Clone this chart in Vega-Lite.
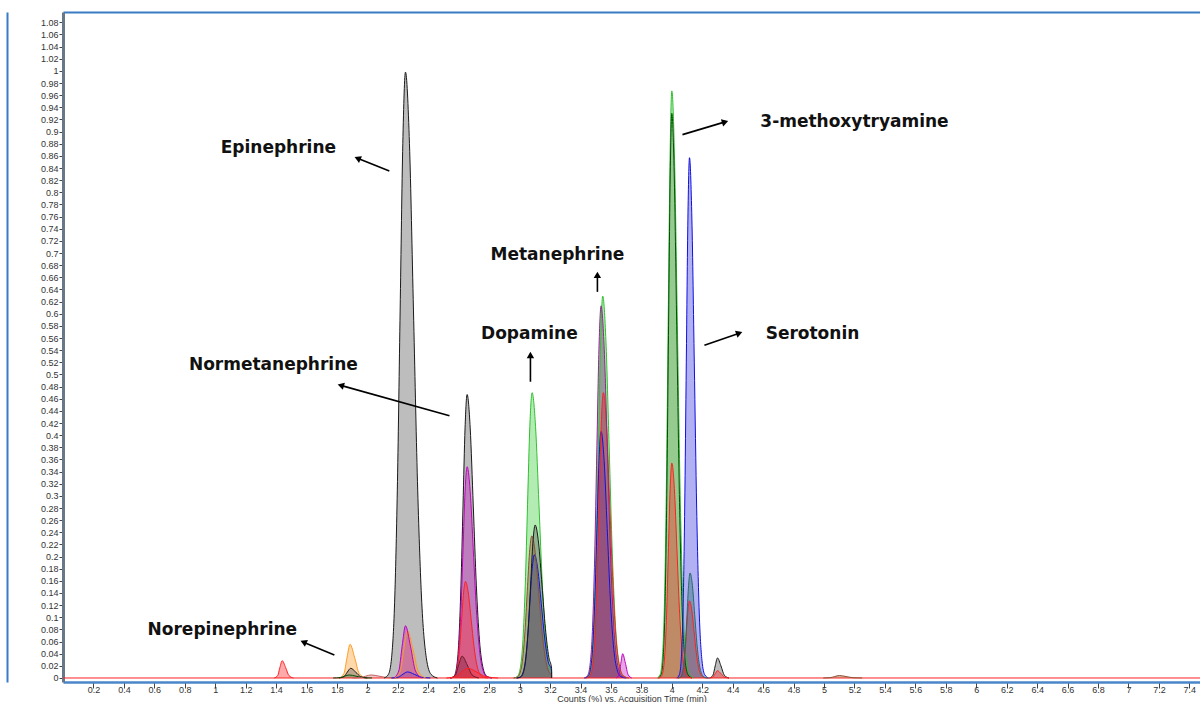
{
"$schema": "https://vega.github.io/schema/vega-lite/v6.json",
"width": 1137, "height": 670,
"autosize": "none",
"padding": {"left": 63, "top": 12, "right": 0, "bottom": 20},
"background": "white",
"datasets": {
"peaks": [
{"p":0,"c":"R","x":0,"y":0},{"p":0,"c":"R","x":7.47,"y":0},
{"p":1,"c":"R","x":1.3875,"y":0},{"p":1,"c":"R","x":1.41,"y":0.0038},{"p":1,"c":"R","x":1.425,"y":0.0173},{"p":1,"c":"R","x":1.44,"y":0.0285},{"p":1,"c":"R","x":1.4625,"y":0.0173},{"p":1,"c":"R","x":1.485,"y":0.0038},{"p":1,"c":"R","x":1.515,"y":0},
{"p":2,"c":"O","x":1.816,"y":0},{"p":2,"c":"O","x":1.846,"y":0.0075},{"p":2,"c":"O","x":1.866,"y":0.0337},{"p":2,"c":"O","x":1.886,"y":0.0555},{"p":2,"c":"O","x":1.916,"y":0.0337},{"p":2,"c":"O","x":1.946,"y":0.0075},{"p":2,"c":"O","x":1.986,"y":0},
{"p":3,"c":"K","x":1.813,"y":0},{"p":3,"c":"K","x":1.846,"y":0.0022},{"p":3,"c":"K","x":1.868,"y":0.0097},{"p":3,"c":"K","x":1.89,"y":0.016},{"p":3,"c":"K","x":1.923,"y":0.0097},{"p":3,"c":"K","x":1.956,"y":0.0022},{"p":3,"c":"K","x":2.0,"y":0},
{"p":4,"c":"DG","x":1.775,"y":0},{"p":4,"c":"DG","x":1.82,"y":0.0007},{"p":4,"c":"DG","x":1.85,"y":0.003},{"p":4,"c":"DG","x":1.88,"y":0.005},{"p":4,"c":"DG","x":1.925,"y":0.003},{"p":4,"c":"DG","x":1.97,"y":0.0007},{"p":4,"c":"DG","x":2.03,"y":0},
{"p":5,"c":"RS","x":1.9015,"y":0},{"p":5,"c":"RS","x":1.954,"y":0.0007},{"p":5,"c":"RS","x":1.989,"y":0.003},{"p":5,"c":"RS","x":2.024,"y":0.005},{"p":5,"c":"RS","x":2.0765,"y":0.003},{"p":5,"c":"RS","x":2.129,"y":0.0007},{"p":5,"c":"RS","x":2.199,"y":0},
{"p":6,"c":"K","x":2.11,"y":0},{"p":6,"c":"K","x":2.138,"y":0.006},{"p":6,"c":"K","x":2.159,"y":0.034},{"p":6,"c":"K","x":2.18,"y":0.135},{"p":6,"c":"K","x":2.1975,"y":0.324},{"p":6,"c":"K","x":2.215,"y":0.606},{"p":6,"c":"K","x":2.2325,"y":0.88},{"p":6,"c":"K","x":2.25,"y":0.998},{"p":6,"c":"K","x":2.27625,"y":0.88},{"p":6,"c":"K","x":2.3025,"y":0.606},{"p":6,"c":"K","x":2.32875,"y":0.324},{"p":6,"c":"K","x":2.355,"y":0.135},{"p":6,"c":"K","x":2.3865,"y":0.034},{"p":6,"c":"K","x":2.418,"y":0.006},{"p":6,"c":"K","x":2.46,"y":0},
{"p":9,"c":"B","x":2.158,"y":0},{"p":9,"c":"B","x":2.203,"y":0.0014},{"p":9,"c":"B","x":2.233,"y":0.0061},{"p":9,"c":"B","x":2.263,"y":0.01},{"p":9,"c":"B","x":2.308,"y":0.0061},{"p":9,"c":"B","x":2.353,"y":0.0014},{"p":9,"c":"B","x":2.413,"y":0},
{"p":8,"c":"O","x":2.179,"y":0},{"p":8,"c":"O","x":2.215,"y":0.0105},{"p":8,"c":"O","x":2.239,"y":0.0473},{"p":8,"c":"O","x":2.263,"y":0.078},{"p":8,"c":"O","x":2.299,"y":0.0473},{"p":8,"c":"O","x":2.335,"y":0.0105},{"p":8,"c":"O","x":2.383,"y":0},
{"p":7,"c":"M","x":2.173,"y":0},{"p":7,"c":"M","x":2.206,"y":0.0116},{"p":7,"c":"M","x":2.228,"y":0.0522},{"p":7,"c":"M","x":2.25,"y":0.086},{"p":7,"c":"M","x":2.283,"y":0.0522},{"p":7,"c":"M","x":2.316,"y":0.0116},{"p":7,"c":"M","x":2.36,"y":0},
{"p":10,"c":"K","x":2.547,"y":0},{"p":10,"c":"K","x":2.5686,"y":0.0028},{"p":10,"c":"K","x":2.5848,"y":0.0159},{"p":10,"c":"K","x":2.601,"y":0.063},{"p":10,"c":"K","x":2.6145,"y":0.1518},{"p":10,"c":"K","x":2.628,"y":0.2835},{"p":10,"c":"K","x":2.6415,"y":0.4119},{"p":10,"c":"K","x":2.655,"y":0.467},{"p":10,"c":"K","x":2.67525,"y":0.4119},{"p":10,"c":"K","x":2.6955,"y":0.2835},{"p":10,"c":"K","x":2.71575,"y":0.1518},{"p":10,"c":"K","x":2.736,"y":0.063},{"p":10,"c":"K","x":2.7603,"y":0.0159},{"p":10,"c":"K","x":2.7846,"y":0.0028},{"p":10,"c":"K","x":2.817,"y":0},
{"p":11,"c":"M","x":2.547,"y":0},{"p":11,"c":"M","x":2.5686,"y":0.0021},{"p":11,"c":"M","x":2.5848,"y":0.0118},{"p":11,"c":"M","x":2.601,"y":0.047},{"p":11,"c":"M","x":2.6145,"y":0.1131},{"p":11,"c":"M","x":2.628,"y":0.2112},{"p":11,"c":"M","x":2.6415,"y":0.3069},{"p":11,"c":"M","x":2.655,"y":0.348},{"p":11,"c":"M","x":2.67525,"y":0.3069},{"p":11,"c":"M","x":2.6955,"y":0.2112},{"p":11,"c":"M","x":2.71575,"y":0.1131},{"p":11,"c":"M","x":2.736,"y":0.047},{"p":11,"c":"M","x":2.7603,"y":0.0118},{"p":11,"c":"M","x":2.7846,"y":0.0021},{"p":11,"c":"M","x":2.817,"y":0},
{"p":12,"c":"R","x":2.544,"y":0},{"p":12,"c":"R","x":2.564,"y":0.001},{"p":12,"c":"R","x":2.579,"y":0.0054},{"p":12,"c":"R","x":2.594,"y":0.0215},{"p":12,"c":"R","x":2.6065,"y":0.0517},{"p":12,"c":"R","x":2.619,"y":0.0965},{"p":12,"c":"R","x":2.6315,"y":0.1402},{"p":12,"c":"R","x":2.644,"y":0.159},{"p":12,"c":"R","x":2.66275,"y":0.1402},{"p":12,"c":"R","x":2.6815,"y":0.0965},{"p":12,"c":"R","x":2.70025,"y":0.0517},{"p":12,"c":"R","x":2.719,"y":0.0215},{"p":12,"c":"R","x":2.7415,"y":0.0054},{"p":12,"c":"R","x":2.764,"y":0.001},{"p":12,"c":"R","x":2.794,"y":0},
{"p":13,"c":"MR","x":2.545,"y":0},{"p":13,"c":"MR","x":2.578,"y":0.0049},{"p":13,"c":"MR","x":2.6,"y":0.0219},{"p":13,"c":"MR","x":2.622,"y":0.036},{"p":13,"c":"MR","x":2.655,"y":0.0219},{"p":13,"c":"MR","x":2.688,"y":0.0049},{"p":13,"c":"MR","x":2.732,"y":0},
{"p":14,"c":"R","x":2.519,"y":0},{"p":14,"c":"R","x":2.579,"y":0.0022},{"p":14,"c":"R","x":2.619,"y":0.0097},{"p":14,"c":"R","x":2.659,"y":0.016},{"p":14,"c":"R","x":2.719,"y":0.0097},{"p":14,"c":"R","x":2.779,"y":0.0022},{"p":14,"c":"R","x":2.859,"y":0},
{"p":15,"c":"G","x":2.962,"y":0},{"p":15,"c":"G","x":2.986,"y":0.0028},{"p":15,"c":"G","x":3.004,"y":0.016},{"p":15,"c":"G","x":3.022,"y":0.0635},{"p":15,"c":"G","x":3.037,"y":0.1528},{"p":15,"c":"G","x":3.052,"y":0.2853},{"p":15,"c":"G","x":3.067,"y":0.4145},{"p":15,"c":"G","x":3.082,"y":0.47},{"p":15,"c":"G","x":3.1045,"y":0.4145},{"p":15,"c":"G","x":3.127,"y":0.2853},{"p":15,"c":"G","x":3.1495,"y":0.1528},{"p":15,"c":"G","x":3.172,"y":0.0635},{"p":15,"c":"G","x":3.199,"y":0.016},{"p":15,"c":"G","x":3.21,"y":0.01},{"p":15,"c":"G","x":3.2101,"y":0},
{"p":18,"c":"B","x":2.977,"y":0},{"p":18,"c":"B","x":3.001,"y":0.0012},{"p":18,"c":"B","x":3.019,"y":0.0069},{"p":18,"c":"B","x":3.037,"y":0.0274},{"p":18,"c":"B","x":3.052,"y":0.066},{"p":18,"c":"B","x":3.067,"y":0.1232},{"p":18,"c":"B","x":3.082,"y":0.179},{"p":18,"c":"B","x":3.097,"y":0.203},{"p":18,"c":"B","x":3.1195,"y":0.179},{"p":18,"c":"B","x":3.142,"y":0.1232},{"p":18,"c":"B","x":3.1645,"y":0.066},{"p":18,"c":"B","x":3.187,"y":0.0274},{"p":18,"c":"B","x":3.21,"y":0.012},{"p":18,"c":"B","x":3.2101,"y":0},
{"p":16,"c":"BR","x":2.96,"y":0},{"p":16,"c":"BR","x":2.984,"y":0.0014},{"p":16,"c":"BR","x":3.002,"y":0.008},{"p":16,"c":"BR","x":3.02,"y":0.0316},{"p":16,"c":"BR","x":3.035,"y":0.076},{"p":16,"c":"BR","x":3.05,"y":0.142},{"p":16,"c":"BR","x":3.065,"y":0.2064},{"p":16,"c":"BR","x":3.08,"y":0.234},{"p":16,"c":"BR","x":3.1025,"y":0.2064},{"p":16,"c":"BR","x":3.125,"y":0.142},{"p":16,"c":"BR","x":3.1475,"y":0.076},{"p":16,"c":"BR","x":3.17,"y":0.0316},{"p":16,"c":"BR","x":3.197,"y":0.008},{"p":16,"c":"BR","x":3.21,"y":0.005},{"p":16,"c":"BR","x":3.2101,"y":0},
{"p":17,"c":"K","x":2.982,"y":0},{"p":17,"c":"K","x":3.006,"y":0.0015},{"p":17,"c":"K","x":3.024,"y":0.0086},{"p":17,"c":"K","x":3.042,"y":0.034},{"p":17,"c":"K","x":3.057,"y":0.0819},{"p":17,"c":"K","x":3.072,"y":0.153},{"p":17,"c":"K","x":3.087,"y":0.2223},{"p":17,"c":"K","x":3.102,"y":0.252},{"p":17,"c":"K","x":3.1245,"y":0.2223},{"p":17,"c":"K","x":3.147,"y":0.153},{"p":17,"c":"K","x":3.1695,"y":0.0819},{"p":17,"c":"K","x":3.192,"y":0.034},{"p":17,"c":"K","x":3.21,"y":0.016},{"p":17,"c":"K","x":3.2101,"y":0},
{"p":19,"c":"G","x":3.434,"y":0},{"p":19,"c":"G","x":3.4564,"y":0.0038},{"p":19,"c":"G","x":3.4732,"y":0.0214},{"p":19,"c":"G","x":3.49,"y":0.0849},{"p":19,"c":"G","x":3.504,"y":0.2044},{"p":19,"c":"G","x":3.518,"y":0.3818},{"p":19,"c":"G","x":3.532,"y":0.5548},{"p":19,"c":"G","x":3.546,"y":0.629},{"p":19,"c":"G","x":3.567,"y":0.5548},{"p":19,"c":"G","x":3.588,"y":0.3818},{"p":19,"c":"G","x":3.609,"y":0.2044},{"p":19,"c":"G","x":3.63,"y":0.0849},{"p":19,"c":"G","x":3.6552,"y":0.0214},{"p":19,"c":"G","x":3.6804,"y":0.0038},{"p":19,"c":"G","x":3.714,"y":0},
{"p":22,"c":"B","x":3.427,"y":0},{"p":22,"c":"B","x":3.4486,"y":0.0024},{"p":22,"c":"B","x":3.4648,"y":0.0138},{"p":22,"c":"B","x":3.481,"y":0.0548},{"p":22,"c":"B","x":3.4945,"y":0.132},{"p":22,"c":"B","x":3.508,"y":0.2464},{"p":22,"c":"B","x":3.5215,"y":0.3581},{"p":22,"c":"B","x":3.535,"y":0.406},{"p":22,"c":"B","x":3.55525,"y":0.3581},{"p":22,"c":"B","x":3.5755,"y":0.2464},{"p":22,"c":"B","x":3.59575,"y":0.132},{"p":22,"c":"B","x":3.616,"y":0.0548},{"p":22,"c":"B","x":3.6403,"y":0.0138},{"p":22,"c":"B","x":3.6646,"y":0.0024},{"p":22,"c":"B","x":3.697,"y":0},
{"p":21,"c":"R","x":3.438,"y":0},{"p":21,"c":"R","x":3.4604,"y":0.0028},{"p":21,"c":"R","x":3.4772,"y":0.016},{"p":21,"c":"R","x":3.494,"y":0.0635},{"p":21,"c":"R","x":3.508,"y":0.1528},{"p":21,"c":"R","x":3.522,"y":0.2853},{"p":21,"c":"R","x":3.536,"y":0.4145},{"p":21,"c":"R","x":3.55,"y":0.47},{"p":21,"c":"R","x":3.571,"y":0.4145},{"p":21,"c":"R","x":3.592,"y":0.2853},{"p":21,"c":"R","x":3.613,"y":0.1528},{"p":21,"c":"R","x":3.634,"y":0.0635},{"p":21,"c":"R","x":3.6592,"y":0.016},{"p":21,"c":"R","x":3.6844,"y":0.0028},{"p":21,"c":"R","x":3.718,"y":0},
{"p":20,"c":"P","x":3.423,"y":0},{"p":20,"c":"P","x":3.4454,"y":0.0037},{"p":20,"c":"P","x":3.4622,"y":0.0208},{"p":20,"c":"P","x":3.479,"y":0.0828},{"p":20,"c":"P","x":3.493,"y":0.1992},{"p":20,"c":"P","x":3.507,"y":0.3721},{"p":20,"c":"P","x":3.521,"y":0.5407},{"p":20,"c":"P","x":3.535,"y":0.613},{"p":20,"c":"P","x":3.556,"y":0.5407},{"p":20,"c":"P","x":3.577,"y":0.3721},{"p":20,"c":"P","x":3.598,"y":0.1992},{"p":20,"c":"P","x":3.619,"y":0.0828},{"p":20,"c":"P","x":3.6442,"y":0.0208},{"p":20,"c":"P","x":3.6694,"y":0.0037},{"p":20,"c":"P","x":3.703,"y":0},
{"p":23,"c":"M","x":3.635,"y":0},{"p":23,"c":"M","x":3.653,"y":0.0054},{"p":23,"c":"M","x":3.665,"y":0.0243},{"p":23,"c":"M","x":3.677,"y":0.04},{"p":23,"c":"M","x":3.695,"y":0.0243},{"p":23,"c":"M","x":3.713,"y":0.0054},{"p":23,"c":"M","x":3.737,"y":0},
{"p":24,"c":"G","x":3.904,"y":0},{"p":24,"c":"G","x":3.9232,"y":0.0058},{"p":24,"c":"G","x":3.9376,"y":0.0329},{"p":24,"c":"G","x":3.952,"y":0.1305},{"p":24,"c":"G","x":3.964,"y":0.3143},{"p":24,"c":"G","x":3.976,"y":0.587},{"p":24,"c":"G","x":3.988,"y":0.8529},{"p":24,"c":"G","x":4.0,"y":0.967},{"p":24,"c":"G","x":4.018,"y":0.8529},{"p":24,"c":"G","x":4.036,"y":0.587},{"p":24,"c":"G","x":4.054,"y":0.3143},{"p":24,"c":"G","x":4.072,"y":0.1305},{"p":24,"c":"G","x":4.0936,"y":0.0329},{"p":24,"c":"G","x":4.1152,"y":0.0058},{"p":24,"c":"G","x":4.144,"y":0},
{"p":25,"c":"DG","x":3.912,"y":0},{"p":25,"c":"DG","x":3.9296,"y":0.0056},{"p":25,"c":"DG","x":3.9428,"y":0.0316},{"p":25,"c":"DG","x":3.956,"y":0.1256},{"p":25,"c":"DG","x":3.967,"y":0.3023},{"p":25,"c":"DG","x":3.978,"y":0.5645},{"p":25,"c":"DG","x":3.989,"y":0.8203},{"p":25,"c":"DG","x":4.0,"y":0.93},{"p":25,"c":"DG","x":4.0165,"y":0.8203},{"p":25,"c":"DG","x":4.033,"y":0.5645},{"p":25,"c":"DG","x":4.0495,"y":0.3023},{"p":25,"c":"DG","x":4.066,"y":0.1256},{"p":25,"c":"DG","x":4.0858,"y":0.0316},{"p":25,"c":"DG","x":4.1056,"y":0.0056},{"p":25,"c":"DG","x":4.132,"y":0},
{"p":26,"c":"R","x":3.912,"y":0},{"p":26,"c":"R","x":3.9296,"y":0.0021},{"p":26,"c":"R","x":3.9428,"y":0.012},{"p":26,"c":"R","x":3.956,"y":0.0478},{"p":26,"c":"R","x":3.967,"y":0.1151},{"p":26,"c":"R","x":3.978,"y":0.2149},{"p":26,"c":"R","x":3.989,"y":0.3122},{"p":26,"c":"R","x":4.0,"y":0.354},{"p":26,"c":"R","x":4.0165,"y":0.3122},{"p":26,"c":"R","x":4.033,"y":0.2149},{"p":26,"c":"R","x":4.0495,"y":0.1151},{"p":26,"c":"R","x":4.066,"y":0.0478},{"p":26,"c":"R","x":4.0858,"y":0.012},{"p":26,"c":"R","x":4.1056,"y":0.0021},{"p":26,"c":"R","x":4.132,"y":0},
{"p":27,"c":"B","x":4.032,"y":0},{"p":27,"c":"B","x":4.0488,"y":0.0051},{"p":27,"c":"B","x":4.0614,"y":0.0291},{"p":27,"c":"B","x":4.074,"y":0.1157},{"p":27,"c":"B","x":4.0845,"y":0.2785},{"p":27,"c":"B","x":4.095,"y":0.5202},{"p":27,"c":"B","x":4.1055,"y":0.7559},{"p":27,"c":"B","x":4.116,"y":0.857},{"p":27,"c":"B","x":4.13175,"y":0.7559},{"p":27,"c":"B","x":4.1475,"y":0.5202},{"p":27,"c":"B","x":4.16325,"y":0.2785},{"p":27,"c":"B","x":4.179,"y":0.1157},{"p":27,"c":"B","x":4.1979,"y":0.0291},{"p":27,"c":"B","x":4.2168,"y":0.0051},{"p":27,"c":"B","x":4.242,"y":0},
{"p":29,"c":"R","x":4.036,"y":0},{"p":29,"c":"R","x":4.052,"y":0.0008},{"p":29,"c":"R","x":4.064,"y":0.0043},{"p":29,"c":"R","x":4.076,"y":0.0171},{"p":29,"c":"R","x":4.086,"y":0.0413},{"p":29,"c":"R","x":4.096,"y":0.0771},{"p":29,"c":"R","x":4.106,"y":0.112},{"p":29,"c":"R","x":4.116,"y":0.127},{"p":29,"c":"R","x":4.131,"y":0.112},{"p":29,"c":"R","x":4.146,"y":0.0771},{"p":29,"c":"R","x":4.161,"y":0.0413},{"p":29,"c":"R","x":4.176,"y":0.0171},{"p":29,"c":"R","x":4.194,"y":0.0043},{"p":29,"c":"R","x":4.212,"y":0.0008},{"p":29,"c":"R","x":4.236,"y":0},
{"p":28,"c":"T","x":4.04,"y":0},{"p":28,"c":"T","x":4.056,"y":0.001},{"p":28,"c":"T","x":4.068,"y":0.0059},{"p":28,"c":"T","x":4.08,"y":0.0234},{"p":28,"c":"T","x":4.09,"y":0.0562},{"p":28,"c":"T","x":4.1,"y":0.105},{"p":28,"c":"T","x":4.11,"y":0.1526},{"p":28,"c":"T","x":4.12,"y":0.173},{"p":28,"c":"T","x":4.135,"y":0.1526},{"p":28,"c":"T","x":4.15,"y":0.105},{"p":28,"c":"T","x":4.165,"y":0.0562},{"p":28,"c":"T","x":4.18,"y":0.0234},{"p":28,"c":"T","x":4.198,"y":0.0059},{"p":28,"c":"T","x":4.216,"y":0.001},{"p":28,"c":"T","x":4.24,"y":0},
{"p":30,"c":"K","x":4.2475,"y":0},{"p":30,"c":"K","x":4.27,"y":0.0045},{"p":30,"c":"K","x":4.285,"y":0.02},{"p":30,"c":"K","x":4.3,"y":0.033},{"p":30,"c":"K","x":4.3225,"y":0.02},{"p":30,"c":"K","x":4.345,"y":0.0045},{"p":30,"c":"K","x":4.375,"y":0},
{"p":31,"c":"R","x":4.2475,"y":0},{"p":31,"c":"R","x":4.27,"y":0.0016},{"p":31,"c":"R","x":4.285,"y":0.0073},{"p":31,"c":"R","x":4.3,"y":0.012},{"p":31,"c":"R","x":4.3225,"y":0.0073},{"p":31,"c":"R","x":4.345,"y":0.0016},{"p":31,"c":"R","x":4.375,"y":0},
{"p":32,"c":"BR","x":4.995,"y":0},{"p":32,"c":"BR","x":5.04,"y":0.0005},{"p":32,"c":"BR","x":5.07,"y":0.0024},{"p":32,"c":"BR","x":5.1,"y":0.004},{"p":32,"c":"BR","x":5.145,"y":0.0024},{"p":32,"c":"BR","x":5.19,"y":0.0005},{"p":32,"c":"BR","x":5.25,"y":0}
],
"ann": [
{"label":"Epinephrine","lx":1.415,"ly":0.873,"x1":2.144,"y1":0.835,"x2":1.935,"y2":0.856,"ang":-67},
{"label":"3-methoxytryamine","lx":5.2,"ly":0.916,"x1":4.07,"y1":0.895,"x2":4.35,"y2":0.916,"ang":72},
{"label":"Metanephrine","lx":3.248,"ly":0.697,"x1":3.511,"y1":0.636,"x2":3.511,"y2":0.664,"ang":0},
{"label":"Dopamine","lx":3.064,"ly":0.567,"x1":3.071,"y1":0.488,"x2":3.071,"y2":0.532,"ang":0},
{"label":"Serotonin","lx":4.924,"ly":0.567,"x1":4.214,"y1":0.548,"x2":4.443,"y2":0.568,"ang":70},
{"label":"Normetanephrine","lx":1.382,"ly":0.516,"x1":2.539,"y1":0.432,"x2":1.825,"y2":0.482,"ang":-74},
{"label":"Norepinephrine","lx":1.047,"ly":0.079,"x1":1.783,"y1":0.038,"x2":1.58,"y2":0.059,"ang":-66}
]
},
"config": {
"view": {"stroke": null},
"axis": {"grid": false, "labelFont": "Liberation Sans", "labelFontSize": 9, "labelColor": "#333333", "tickColor": "#444444", "titleFont": "Liberation Sans", "titleFontSize": 9, "titleFontWeight": "normal", "titleColor": "#333333"}
},
"resolve": {"axis": {"x": "independent", "y": "independent"}},
"layer": [
{
"data": {"name": "peaks"},
"mark": {"type": "area", "interpolate": "monotone", "fillOpacity": 0.4},
"encoding": {
"x": {"field": "x", "type": "quantitative", "scale": {"domain": [0, 7.47], "nice": false, "zero": false},
"axis": {"values": [0.2,0.4,0.6,0.8,1,1.2,1.4,1.6,1.8,2,2.2,2.4,2.6,2.8,3,3.2,3.4,3.6,3.8,4,4.2,4.4,4.6,4.8,5,5.2,5.4,5.6,5.8,6,6.2,6.4,6.6,6.8,7,7.2,7.4], "format": ".1~f", "tickSize": 6, "labelPadding": -3, "domainColor": "#4a86c8", "domainWidth": 2.5, "title": "Counts (%) vs. Acquisition Time (min)", "titlePadding": 0, "labelFlush": false}},
"y": {"field": "y", "type": "quantitative", "stack": null, "scale": {"domain": [-0.0066, 1.097], "nice": false, "zero": false},
"axis": {"values": [0,0.02,0.04,0.06,0.08,0.1,0.12,0.14,0.16,0.18,0.2,0.22,0.24,0.26,0.28,0.3,0.32,0.34,0.36,0.38,0.4,0.42,0.44,0.46,0.48,0.5,0.52,0.54,0.56,0.58,0.6,0.62,0.64,0.66,0.68,0.7,0.72,0.74,0.76,0.78,0.8,0.82,0.84,0.86,0.88,0.9,0.92,0.94,0.96,0.98,1,1.02,1.04,1.06,1.08], "format": ".2~f", "tickSize": 4, "labelPadding": 1, "domainColor": "#687888", "domainWidth": 3, "title": null, "labelFlush": false}},
"y2": {"datum": 0},
"fill": {"field": "c", "type": "nominal", "legend": null, "scale": {"domain": ["K","R","O","M","G","P","B","DG","BR","MR","RS","T"], "range": ["#5a5a5a","#ff2a2a","#ffa030","#c020c0","#40d040","#6a2070","#3a3ae0","#6a9a5a","#8b5a2b","#7a2040","#d08080","#2a7070"]}},
"detail": {"field": "p", "type": "nominal"}
}
},
{
"data": {"name": "peaks"},
"mark": {"type": "line", "interpolate": "monotone", "strokeWidth": 1},
"encoding": {
"x": {"field": "x", "type": "quantitative", "axis": {"orient": "top", "labels": false, "ticks": false, "title": null, "domainColor": "#3a7cc4", "domainWidth": 2}},
"y": {"field": "y", "type": "quantitative", "axis": {"orient": "left", "offset": 56, "labels": false, "ticks": false, "title": null, "domainColor": "#3a7cc4", "domainWidth": 2}},
"stroke": {"field": "c", "type": "nominal", "legend": null, "scale": {"domain": ["K","R","O","M","G","P","B","DG","BR","MR","RS","T"], "range": ["#1a1a1a","#ff2020","#ff9a20","#c000c0","#30c030","#8a2a8a","#1010e0","#0a4a0a","#8b5030","#6a1a30","#c06060","#2a6a6a"]}},
"detail": {"field": "p", "type": "nominal"}
}
},
{
"data": {"name": "ann"},
"mark": {"type": "rule", "color": "#000000", "strokeWidth": 1.6},
"encoding": {
"x": {"field": "x1", "type": "quantitative", "axis": null},
"y": {"field": "y1", "type": "quantitative", "axis": null},
"x2": {"field": "x2"},
"y2": {"field": "y2"}
}
},
{
"data": {"name": "ann"},
"mark": {"type": "point", "shape": "triangle-up", "filled": true, "color": "#000000", "size": 55, "opacity": 1},
"encoding": {
"x": {"field": "x2", "type": "quantitative", "axis": null},
"y": {"field": "y2", "type": "quantitative", "axis": null},
"angle": {"field": "ang", "type": "quantitative", "scale": null}
}
},
{
"data": {"name": "ann"},
"mark": {"type": "text", "font": "DejaVu Sans", "fontWeight": "bold", "fontSize": 17, "align": "center", "baseline": "middle", "color": "#111111"},
"encoding": {
"x": {"field": "lx", "type": "quantitative", "axis": null},
"y": {"field": "ly", "type": "quantitative", "axis": null},
"text": {"field": "label", "type": "nominal"}
}
}
]
}
